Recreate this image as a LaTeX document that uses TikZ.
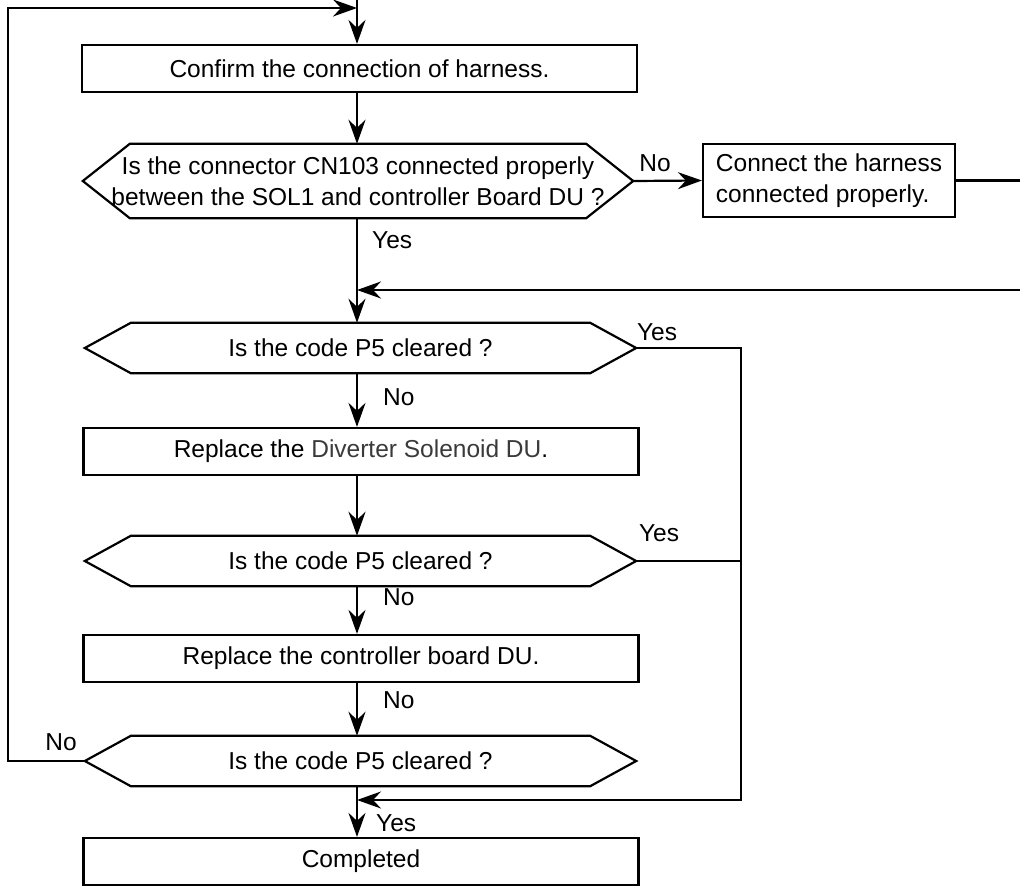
\documentclass[tikz,border=0pt]{standalone}
\usepackage{fontspec}
\setmainfont{Liberation Sans}
\usetikzlibrary{arrows.meta,calc}
\definecolor{dg}{HTML}{3A3A3A}
\newcommand\fsz{\fontsize{24.5}{31}\selectfont}
\begin{document}
\begin{tikzpicture}[x=1pt,y=-1pt,
  line/.style={line width=2.2pt},
  arr/.style={line, -{Stealth[length=24pt,width=17pt,inset=8pt]}},
  box/.style={draw, line width=2.2pt, minimum width=555pt, minimum height=47pt, inner sep=0pt, font=\fsz},
  hex/.style={minimum width=551pt, minimum height=50pt, inner sep=0pt, font=\fsz, align=center},
  lbl/.style={font=\fsz, inner sep=0pt}]
\useasboundingbox (0,0) rectangle (1020,886);
% named coordinates for connector routing
\coordinate (m) at (357,0);
\coordinate (ret) at (0,290);
\coordinate (rr) at (1035,0);
\coordinate (yr) at (741,800);
\coordinate (lx) at (8,8);
% nodes
\node[box] (b1) at (359.5,68.5) {Confirm the connection of harness.};
\node[hex, minimum width=550pt, minimum height=74pt] (d1) at (358,181) {Is the connector CN103 connected properly\\between the SOL1 and controller Board DU ?};
\node[box, minimum width=252pt, minimum height=73pt, align=left] (r) at (829,180.5) {Connect the harness\\connected properly.};
\node[hex] (d2) at (360.5,348) {Is the code P5 cleared ?};
\node[box] (b2) at (361,451.5) {Replace the \textcolor{dg}{Diverter Solenoid DU}.};
\node[hex] (d3) at (360.5,561) {Is the code P5 cleared ?};
\node[box] (b3) at (361,658.5) {Replace the controller board DU.};
\node[hex] (d4) at (360.5,761) {Is the code P5 cleared ?};
\node[box] (b4) at (361,861.5) {Completed};
% hexagon outlines
\foreach \n/\i in {d1/47,d2/46,d3/46,d4/46}
  \draw[line] (\n.west) -- ([xshift=\i pt]\n.north west) -- ([xshift=-\i pt]\n.north east)
    -- (\n.east) -- ([xshift=-\i pt]\n.south east) -- ([xshift=\i pt]\n.south west) -- cycle;
% connectors
\draw[arr] (m) -- (b1.north -| m);
\draw[arr] (b1.south -| m) -- (d1.north -| m);
\draw[arr] (d1.east) -- (r.west);
\draw[arr] (r.east) -- (r.east -| rr) -- (rr |- ret) -- (ret -| m);
\draw[arr] (d1.south -| m) -- (d2.north -| m);
\draw[arr] (d2.south -| m) -- (b2.north -| m);
\draw[arr] (b2.south -| m) -- (d3.north -| m);
\draw[arr] (d3.south -| m) -- (b3.north -| m);
\draw[arr] (b3.south -| m) -- (d4.north -| m);
\draw[arr] (d4.south -| m) -- (b4.north -| m);
\draw[arr] (d2.east) -- (d2.east -| yr) -- (yr) -- (yr -| m);
\draw[line] (d3.east) -- (d3.east -| yr);
\draw[arr] (d4.west) -- (d4.west -| lx) -- (lx) -- (lx -| m);
% labels
\node[lbl, anchor=west] (l1) at (372,240) {Yes};
\node[lbl] (l2) at (655,163) {No};
\node[lbl] (l3) at (657,332) {Yes};
\node[lbl, anchor=west] (l4) at (383,397) {No};
\node[lbl] (l5) at (659,533) {Yes};
\node[lbl, anchor=west] (l6) at (383,597) {No};
\node[lbl, anchor=west] (l7) at (383,700) {No};
\node[lbl] (l8) at (61,742) {No};
\node[lbl, anchor=west] (l9) at (376,823) {Yes};
\end{tikzpicture}
\end{document}
